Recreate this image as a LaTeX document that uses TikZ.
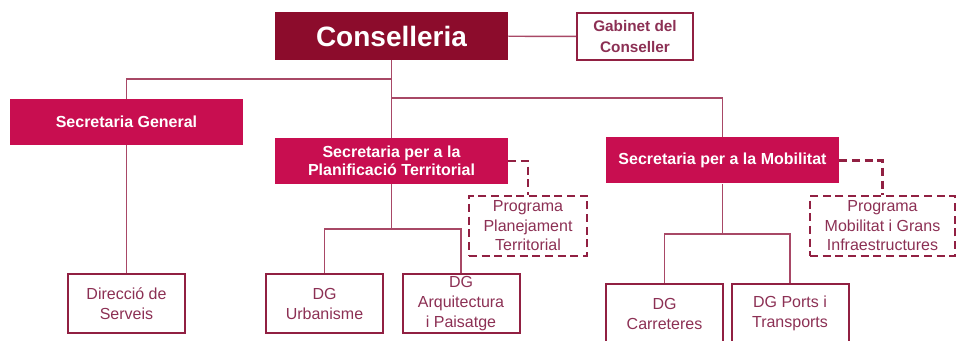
\documentclass[tikz,border=0pt]{standalone}
\usepackage{fontspec}
\setmainfont{Liberation Sans}
\definecolor{granat}{RGB}{140,12,44}
\definecolor{carmi}{RGB}{200,14,80}
\definecolor{vora}{RGB}{145,32,66}
\definecolor{linia}{RGB}{168,72,102}
\definecolor{lletra}{RGB}{140,48,84}
\tikzset{
  conbox/.style={fill=granat,text=white,font=\bfseries\fontsize{21}{24}\selectfont,
    minimum width=174.75pt,minimum height=36pt,inner sep=0pt},
  secr/.style={fill=carmi,text=white,font=\bfseries\fontsize{12}{13.5}\selectfont,
    align=center,minimum width=174.75pt,minimum height=34.5pt,inner sep=0pt},
  gabi/.style={draw=vora,line width=1.3pt,text=lletra,align=center,
    font=\bfseries\fontsize{11.5}{16}\selectfont,
    minimum width=87pt,minimum height=35.25pt,inner sep=0pt},
  unitat/.style={draw=vora,line width=1.5pt,text=lletra,align=center,
    font=\fontsize{12}{15}\selectfont,
    minimum width=87.75pt,minimum height=44.25pt,inner sep=0pt},
  progr/.style={draw=vora,line width=1.6pt,dash pattern=on 6pt off 3.5pt,
    text=lletra,align=center,font=\fontsize{12}{14.6}\selectfont,
    minimum width=88.5pt,minimum height=45pt,inner sep=0pt},
}
\begin{document}
\begin{tikzpicture}[x=0.75pt,y=-0.75pt]
  \useasboundingbox (0,0) rectangle (957,341);
  \draw
    (391.5,36) node[conbox] (cons){Conselleria}
    (635,36.5) node[gabi] (gab){Gabinet del\\Conseller}
    (126.5,122) node[secr] (sg){Secretaria General}
    (391.5,161) node[secr] (spt){Secretaria per a la\\Planificació Territorial}
    (722.5,160.5) node[secr] (smob){Secretaria per a la Mobilitat}
    (528,226) node[progr] (ppt){Programa\\Planejament\\Territorial}
    (882.5,226) node[progr,minimum width=108.75pt] (pmob){Programa\\Mobilitat i Grans\\Infraestructures}
    (126.5,303.5) node[unitat] (dser){Direcció de\\Serveis}
    (324.5,303.5) node[unitat] (urb){DG\\Urbanisme}
    (461,303.5) node[unitat] (arq){DG\\Arquitectura\\i Paisatge}
    (664.5,313.5) node[unitat] (carr){DG\\Carreteres}
    (790,313.5) node[unitat] (ports){DG Ports i\\Transports};
  \coordinate (jl) at (391.5,79);
  \coordinate (jr) at (391.5,98);
  \coordinate (jp) at (391.5,229);
  \coordinate (jm) at (722.5,234);
  \begin{scope}[draw=linia,line width=1.1pt]
    \draw (cons) to (gab);
    \draw (cons) to (spt);
    \draw (jl) -| (sg);
    \draw (jr) -| (smob);
    \draw (sg) to (dser);
    \draw (spt) to (jp);
    \draw (urb) |- (jp) -| (arq);
    \draw (smob) to (jm);
    \draw (carr) |- (jm) -| (ports);
  \end{scope}
  \begin{scope}[draw=vora,line width=1.6pt,dash pattern=on 6pt off 3.5pt]
    \draw (spt.east) -| (ppt.north);
    \draw (smob.east) -| (pmob.north);
  \end{scope}
\end{tikzpicture}
\end{document}
